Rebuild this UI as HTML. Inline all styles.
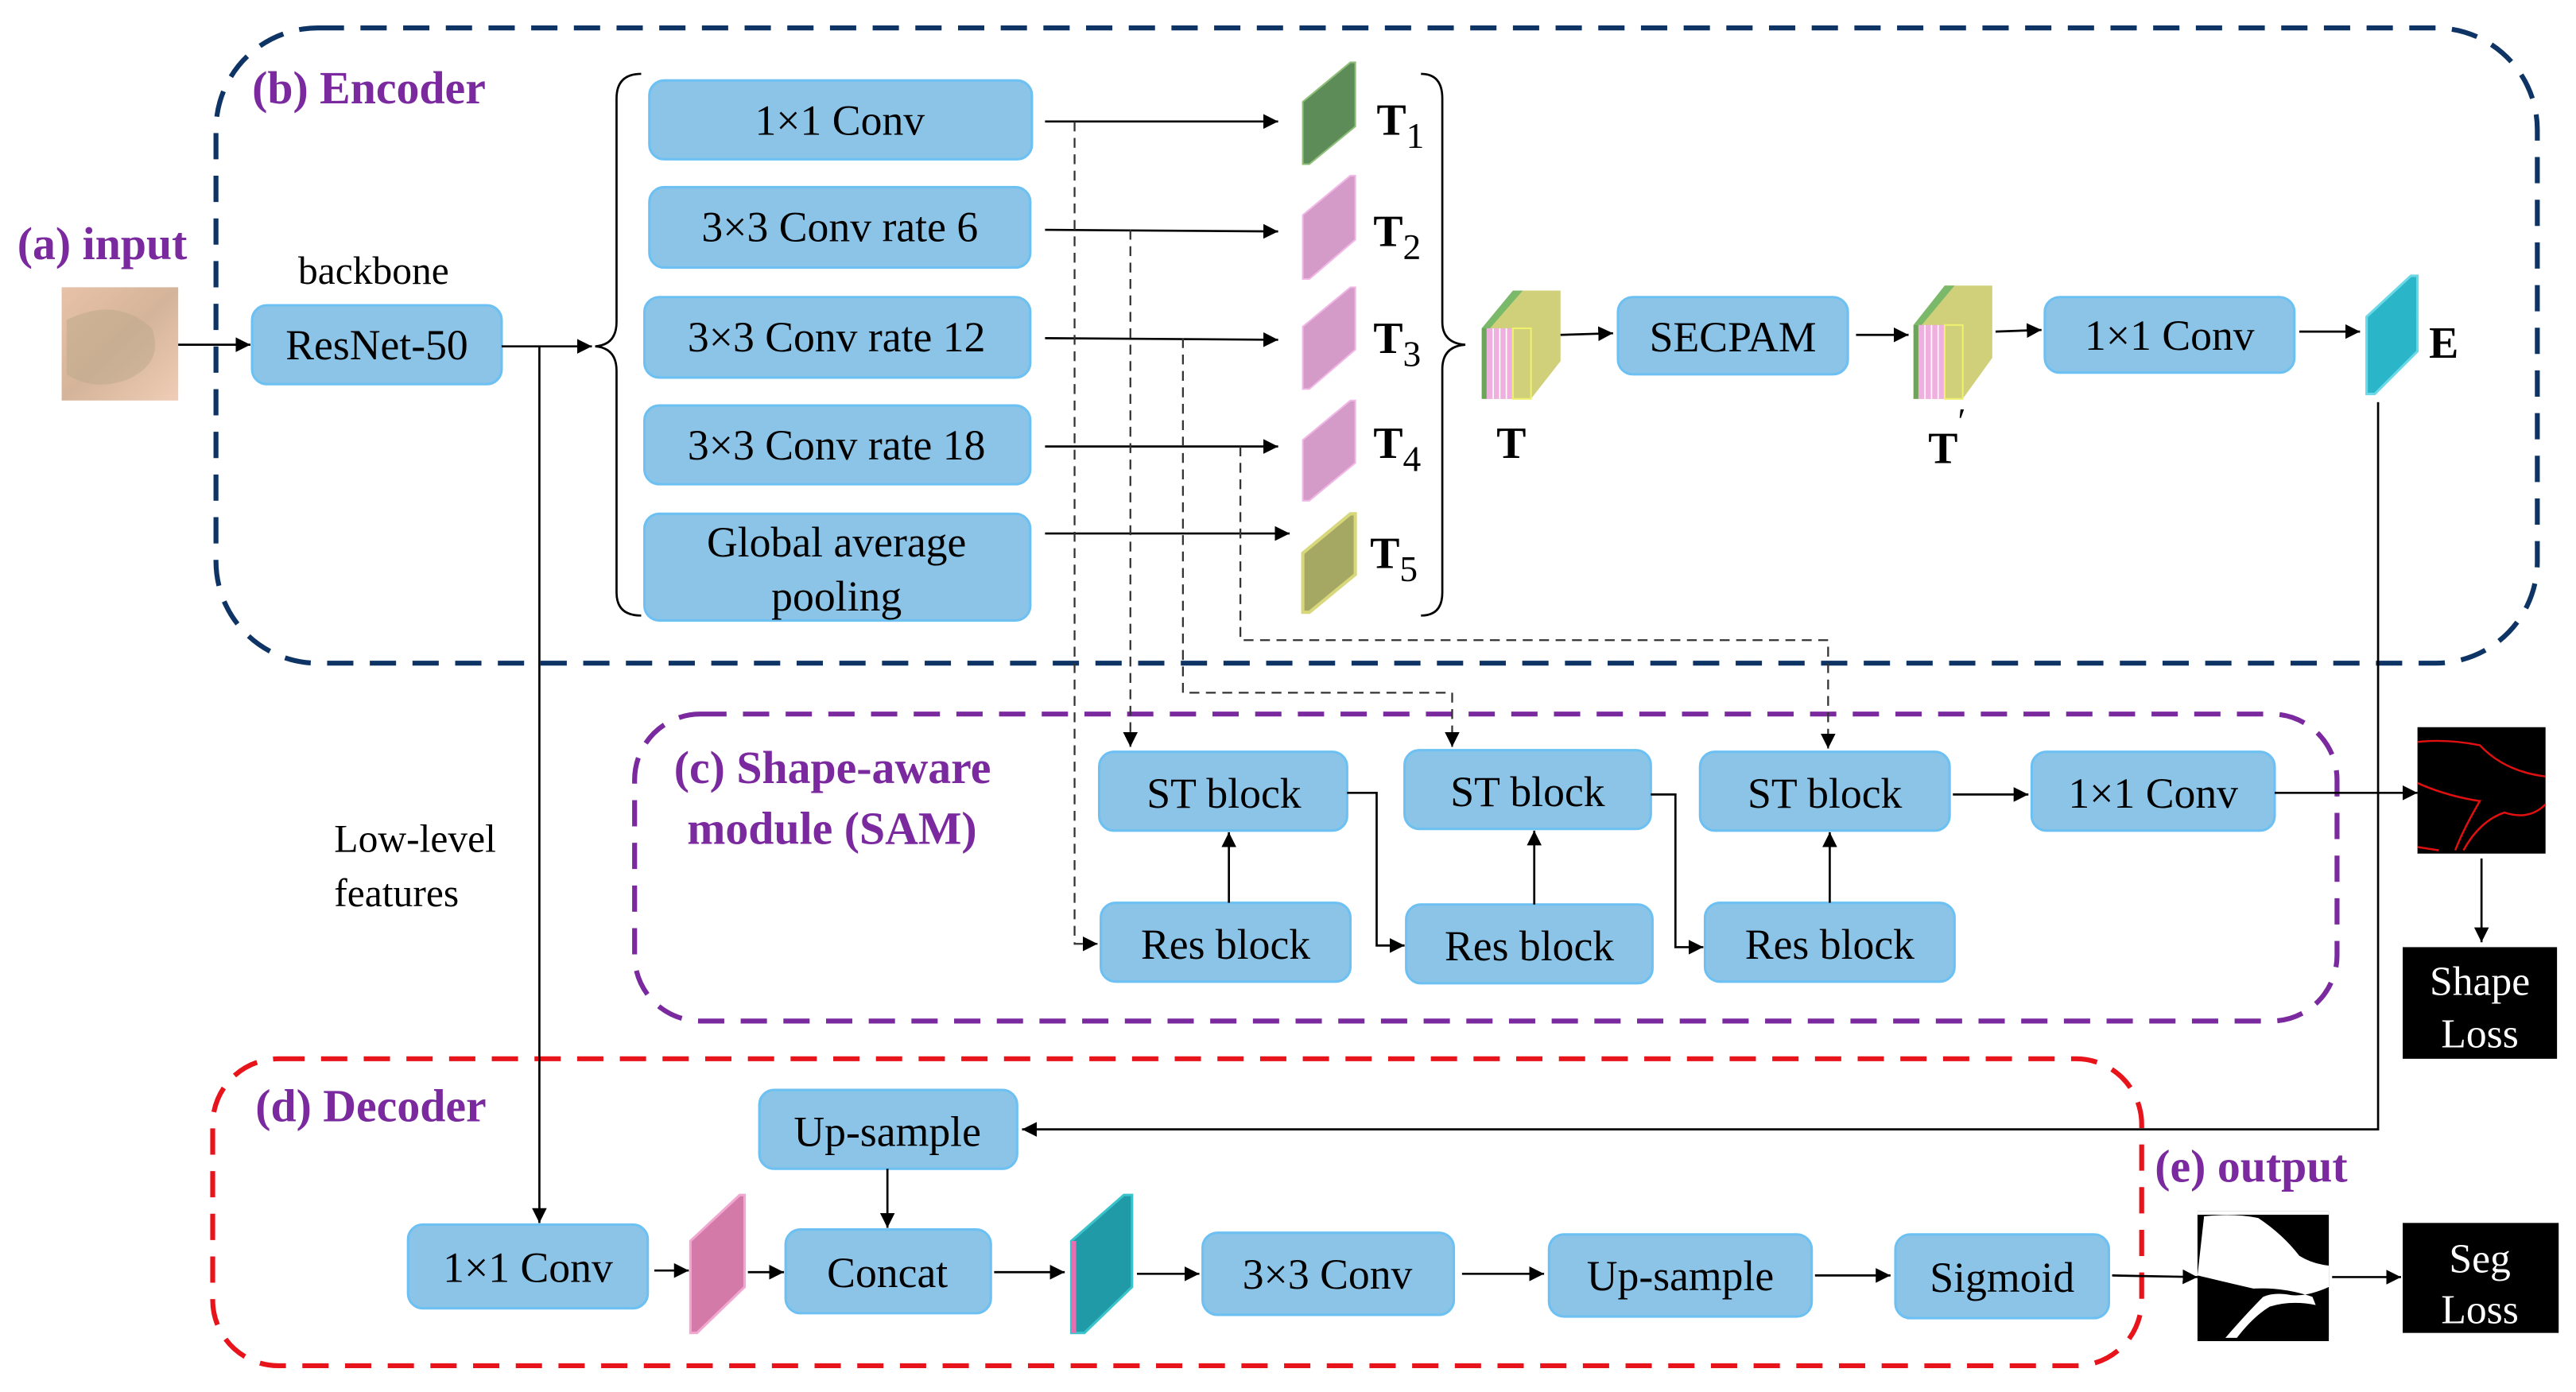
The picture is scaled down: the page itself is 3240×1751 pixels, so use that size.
<!DOCTYPE html>
<html><head><meta charset="utf-8"><style>
html,body{margin:0;padding:0;background:#fff;font-family:"Liberation Serif","Times New Roman",Times,serif;}
svg{display:block;font-family:"Liberation Serif","Times New Roman",Times,serif;}
svg text{font-family:"Liberation Serif","Times New Roman",Times,serif !important;}
.bx{fill:#8cc4e8;stroke:#6cc0f2;stroke-width:1.5;}
.t{font-size:26px;fill:#000;text-anchor:middle;}
.lb{font-size:28px;font-weight:bold;fill:#7a2a9e;}
.ln{stroke:#000;stroke-width:1.3;fill:none;}
.ds{stroke:#333;stroke-width:1.1;fill:none;stroke-dasharray:6 4;}
</style></head><body>
<svg width="3240" height="1751" viewBox="0 0 1568 848" xmlns="http://www.w3.org/2000/svg" font-family="Liberation Serif, Times New Roman, serif">
<defs>
<marker id="a" viewBox="0 0 10 10" refX="10" refY="5" markerWidth="9" markerHeight="9" markerUnits="userSpaceOnUse" orient="auto"><path d="M0,0L10,5L0,10z" fill="#000"/></marker>
</defs>
<rect x="131" y="17" width="1414" height="387" rx="62" fill="none" stroke="#0d3464" stroke-width="3" stroke-dasharray="16 10"/>
<rect x="386" y="435" width="1037" height="187" rx="40" fill="none" stroke="#7a2a9e" stroke-width="3" stroke-dasharray="16 10"/>
<rect x="129" y="645" width="1175" height="187" rx="40" fill="none" stroke="#e8141c" stroke-width="3" stroke-dasharray="16 10"/>

<text class="lb" x="153" y="63">(b) Encoder</text>
<text class="lb" x="10" y="158">(a) input</text>
<text class="lb" x="410" y="477">(c) Shape-aware</text>
<text class="lb" x="418" y="514">module (SAM)</text>
<text class="lb" x="155" y="683">(d) Decoder</text>
<text class="lb" x="1312" y="720">(e) output</text>

<defs><linearGradient id="ig" x1="0" y1="0" x2="1" y2="1"><stop offset="0" stop-color="#e8c2a8"/><stop offset="0.5" stop-color="#d4b49a"/><stop offset="1" stop-color="#efcdb6"/></linearGradient></defs>
<rect x="37" y="175" width="71" height="69" fill="url(#ig)"/>
<path d="M40,195 Q70,180 92,200 Q100,222 75,232 Q55,238 40,228z" fill="#bca889" opacity="0.5"/>
<line class="ln" x1="108" y1="210" x2="152" y2="210" marker-end="url(#a)"/>
<text x="227" y="173" class="t" style="font-size:24px">backbone</text>
<rect class="bx" x="153" y="186" width="152" height="48" rx="9"/>
<text class="t" x="229" y="219">ResNet-50</text>
<line class="ln" x1="305" y1="211" x2="360" y2="211" marker-end="url(#a)"/>
<path class="ln" d="M390,45 Q375,45 375,60 L375,196 Q375,210 362,211 Q375,212 375,226 L375,361 Q375,375 390,375"/>

<rect class="bx" x="395" y="49" width="233" height="48" rx="9"/><text class="t" x="511" y="82">1×1 Conv</text>
<rect class="bx" x="395" y="114" width="232" height="49" rx="9"/><text class="t" x="511" y="147">3×3 Conv rate 6</text>
<rect class="bx" x="392" y="181" width="235" height="49" rx="9"/><text class="t" x="509" y="214">3×3 Conv rate 12</text>
<rect class="bx" x="392" y="247" width="235" height="48" rx="9"/><text class="t" x="509" y="280">3×3 Conv rate 18</text>
<rect class="bx" x="392" y="313" width="235" height="65" rx="9"/><text class="t" x="509" y="339">Global average</text><text class="t" x="509" y="372">pooling</text>

<line class="ln" x1="636" y1="74" x2="778" y2="74" marker-end="url(#a)"/>
<line class="ln" x1="636" y1="140" x2="778" y2="141" marker-end="url(#a)"/>
<line class="ln" x1="636" y1="206" x2="778" y2="207" marker-end="url(#a)"/>
<line class="ln" x1="636" y1="272" x2="778" y2="272" marker-end="url(#a)"/>
<line class="ln" x1="636" y1="325" x2="785" y2="325" marker-end="url(#a)"/>

<g>
<polygon points="793,62 822,38 825,38 825,77 797,100 793,100" fill="#5e8c58" stroke="#8fbf7a" stroke-width="1"/>
<polygon points="793,131 822,107 825,107 825,146 797,170 793,170" fill="#d49ac8" stroke="#f0b8e6" stroke-width="1"/>
<polygon points="793,199 822,175 825,175 825,213 797,237 793,237" fill="#d49ac8" stroke="#f0b8e6" stroke-width="1"/>
<polygon points="793,268 822,244 825,244 825,282 797,305 793,305" fill="#d49ac8" stroke="#f0b8e6" stroke-width="1"/>
<polygon points="793,337 822,313 825,313 825,350 797,373 793,373" fill="#a5a862" stroke="#d8d77c" stroke-width="2"/>
</g>
<g style="font-size:27px;font-weight:bold">
<text x="838" y="82">T<tspan dy="8" style="font-size:22px;font-weight:normal">1</tspan></text>
<text x="836" y="150">T<tspan dy="8" style="font-size:22px;font-weight:normal">2</tspan></text>
<text x="836" y="215">T<tspan dy="8" style="font-size:22px;font-weight:normal">3</tspan></text>
<text x="836" y="279">T<tspan dy="8" style="font-size:22px;font-weight:normal">4</tspan></text>
<text x="834" y="346">T<tspan dy="8" style="font-size:22px;font-weight:normal">5</tspan></text>
</g>
<path class="ln" d="M865,45 Q878,45 878,60 L878,196 Q878,209 892,210 Q878,211 878,225 L878,361 Q878,375 865,375"/>

<g>
<polygon points="902,200 922,177 950,177 950,220 932,243 902,243" fill="#d0d07a"/>
<polygon points="902,200 921,177 927,177 907,200" fill="#7ab86a"/>
<rect x="902" y="200" width="3" height="43" fill="#6aa55a"/>
<rect x="905" y="200" width="16" height="43" fill="#efb0e0"/>
<line x1="909" y1="200" x2="909" y2="243" stroke="#fff" stroke-width="0.8"/><line x1="913" y1="200" x2="913" y2="243" stroke="#fff" stroke-width="0.8"/><line x1="917" y1="200" x2="917" y2="243" stroke="#fff" stroke-width="0.8"/>
<rect x="921" y="200" width="11" height="43" fill="#d0d07a" stroke="#f0f070" stroke-width="1"/>
</g>
<text x="920" y="279" style="font-size:27px;font-weight:bold" text-anchor="middle">T</text>
<line class="ln" x1="950" y1="204" x2="982" y2="203" marker-end="url(#a)"/>
<rect class="bx" x="985" y="181" width="140" height="47" rx="9"/><text class="t" x="1055" y="214">SECPAM</text>
<line class="ln" x1="1130" y1="204" x2="1162" y2="204" marker-end="url(#a)"/>
<g>
<polygon points="1165,198 1184,174 1213,174 1213,218 1195,243 1165,243" fill="#d0d07a"/>
<polygon points="1165,198 1184,174 1190,174 1170,198" fill="#7ab86a"/>
<rect x="1165" y="198" width="3" height="45" fill="#6aa55a"/>
<rect x="1168" y="198" width="16" height="45" fill="#efb0e0"/>
<line x1="1172" y1="198" x2="1172" y2="243" stroke="#fff" stroke-width="0.8"/><line x1="1176" y1="198" x2="1176" y2="243" stroke="#fff" stroke-width="0.8"/><line x1="1180" y1="198" x2="1180" y2="243" stroke="#fff" stroke-width="0.8"/>
<rect x="1184" y="198" width="11" height="45" fill="#d0d07a" stroke="#f0f070" stroke-width="1"/>
</g>
<text x="1183" y="282" style="font-size:27px;font-weight:bold" text-anchor="middle">T</text>
<text x="1192" y="264" style="font-size:22px">′</text>
<line class="ln" x1="1215" y1="202" x2="1243" y2="201" marker-end="url(#a)"/>
<rect class="bx" x="1245" y="181" width="152" height="46" rx="9"/><text class="t" x="1321" y="213">1×1 Conv</text>
<line class="ln" x1="1400" y1="202" x2="1437" y2="202" marker-end="url(#a)"/>
<polygon points="1441,193 1468,168 1472,168 1472,214 1446,240 1441,240" fill="#2bb5c8" stroke="#6ad8e6" stroke-width="1.5"/>
<text x="1479" y="218" style="font-size:27px;font-weight:bold">E</text>

<path class="ln" d="M1448,245 L1448,688 L622,688" marker-end="url(#a)"/>

<path class="ds" d="M654,74 L654,575 L668,575" marker-end="url(#a)"/>
<path class="ds" d="M688,140 L688,455" marker-end="url(#a)"/>
<path class="ds" d="M720,206 L720,422 L884,422 L884,455" marker-end="url(#a)"/>
<path class="ds" d="M755,272 L755,390 L1113,390 L1113,456" marker-end="url(#a)"/>

<rect class="bx" x="669" y="458" width="151" height="48" rx="9"/><text class="t" x="745" y="492">ST block</text>
<rect class="bx" x="855" y="457" width="150" height="48" rx="9"/><text class="t" x="930" y="491">ST block</text>
<rect class="bx" x="1035" y="458" width="152" height="48" rx="9"/><text class="t" x="1111" y="492">ST block</text>
<rect class="bx" x="1237" y="458" width="148" height="48" rx="9"/><text class="t" x="1311" y="492">1×1 Conv</text>
<rect class="bx" x="670" y="550" width="152" height="48" rx="9"/><text class="t" x="746" y="584">Res block</text>
<rect class="bx" x="856" y="551" width="150" height="48" rx="9"/><text class="t" x="931" y="585">Res block</text>
<rect class="bx" x="1038" y="550" width="152" height="48" rx="9"/><text class="t" x="1114" y="584">Res block</text>
<line class="ln" x1="748" y1="550" x2="748" y2="507" marker-end="url(#a)"/>
<line class="ln" x1="934" y1="551" x2="934" y2="506" marker-end="url(#a)"/>
<line class="ln" x1="1114" y1="550" x2="1114" y2="507" marker-end="url(#a)"/>
<path class="ln" d="M820,483 L838,483 L838,576 L855,576" marker-end="url(#a)"/>
<path class="ln" d="M1005,484 L1020,484 L1020,577 L1037,577" marker-end="url(#a)"/>
<line class="ln" x1="1189" y1="484" x2="1235" y2="484" marker-end="url(#a)"/>
<line class="ln" x1="1385" y1="483" x2="1472" y2="483" marker-end="url(#a)"/>

<rect x="1472" y="443" width="78" height="77" fill="#000"/>
<path d="M1472,452 Q1490,450 1510,454 Q1525,470 1550,473 M1472,477 Q1490,485 1510,488 Q1500,505 1495,518 M1500,518 Q1510,500 1525,495 Q1540,500 1550,490 M1472,516 L1485,518" stroke="#e01010" stroke-width="1.2" fill="none"/>
<line class="ln" x1="1511" y1="523" x2="1511" y2="574" marker-end="url(#a)"/>
<rect x="1463" y="577" width="94" height="68" fill="#000"/>
<text class="t" x="1510" y="606" style="fill:#fff;font-size:25px">Shape</text>
<text class="t" x="1510" y="638" style="fill:#fff;font-size:25px">Loss</text>

<text x="203" y="519" style="font-size:24px">Low-level</text>
<text x="203" y="552" style="font-size:24px">features</text>
<line class="ln" x1="328" y1="211" x2="328" y2="745" marker-end="url(#a)"/>

<rect class="bx" x="462" y="664" width="157" height="48" rx="9"/><text class="t" x="540" y="698">Up-sample</text>
<line class="ln" x1="540" y1="712" x2="540" y2="748" marker-end="url(#a)"/>
<rect class="bx" x="248" y="746" width="146" height="51" rx="9"/><text class="t" x="321" y="781">1×1 Conv</text>
<line class="ln" x1="398" y1="774" x2="419" y2="774" marker-end="url(#a)"/>
<polygon points="420,756 450,728 453,728 453,784 424,812 420,812" fill="#d47aa8" stroke="#f0a8d0" stroke-width="1.5"/>
<line class="ln" x1="455" y1="775" x2="477" y2="775" marker-end="url(#a)"/>
<rect class="bx" x="478" y="749" width="125" height="51" rx="9"/><text class="t" x="540" y="784">Concat</text>
<line class="ln" x1="605" y1="775" x2="648" y2="775" marker-end="url(#a)"/>
<polygon points="652,756 684,728 689,728 689,784 660,812 652,812" fill="#1f9aa6" stroke="#3bc3cc" stroke-width="1.5"/>
<rect x="652" y="756" width="3" height="56" fill="#e66fb0"/>
<line class="ln" x1="692" y1="776" x2="730" y2="776" marker-end="url(#a)"/>
<rect class="bx" x="732" y="751" width="153" height="50" rx="9"/><text class="t" x="808" y="785">3×3 Conv</text>
<line class="ln" x1="890" y1="776" x2="940" y2="776" marker-end="url(#a)"/>
<rect class="bx" x="943" y="752" width="160" height="50" rx="9"/><text class="t" x="1023" y="786">Up-sample</text>
<line class="ln" x1="1105" y1="777" x2="1151" y2="777" marker-end="url(#a)"/>
<rect class="bx" x="1154" y="752" width="130" height="51" rx="9"/><text class="t" x="1219" y="787">Sigmoid</text>
<line class="ln" x1="1286" y1="777" x2="1338" y2="778" marker-end="url(#a)"/>

<rect x="1338" y="738" width="80" height="79" fill="#000"/>
<path d="M1338,738 L1418,738 L1418,740 L1338,740z M1342,741 Q1360,739 1375,742 Q1390,752 1400,765 Q1408,770 1418,771 L1418,784 Q1405,790 1395,789 Q1385,787 1378,790 Q1368,800 1355,815 L1362,815 Q1372,802 1382,796 Q1395,792 1410,795 L1408,790 Q1390,784 1372,785 Q1355,781 1338,777z" fill="#fff"/>
<line class="ln" x1="1420" y1="778" x2="1462" y2="778" marker-end="url(#a)"/>
<rect x="1463" y="745" width="95" height="67" fill="#000"/>
<text class="t" x="1510" y="775" style="fill:#fff;font-size:25px">Seg</text>
<text class="t" x="1510" y="806" style="fill:#fff;font-size:25px">Loss</text>
</svg>
</body></html>
